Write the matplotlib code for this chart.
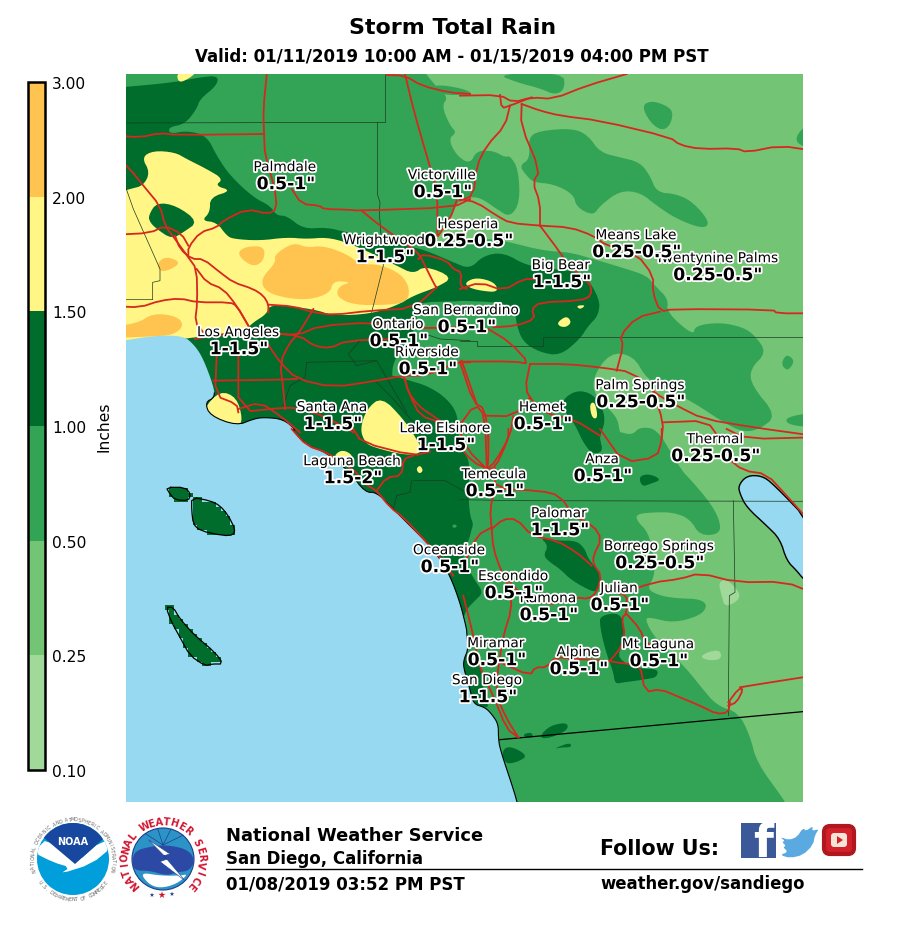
import numpy as np
import matplotlib
matplotlib.use('Agg')
import matplotlib.pyplot as plt
import matplotlib.patheffects as pe
from matplotlib.patches import Circle, Polygon, Rectangle, FancyBboxPatch
from matplotlib.path import Path
from matplotlib.colors import ListedColormap, BoundaryNorm
from matplotlib.cm import ScalarMappable

W, H = 904, 929

# rain classes
levels = [0.10, 0.25, 0.50, 1.00, 1.50, 2.00, 3.00]
colors = ['#a1d99b', '#74c476', '#33a456', '#006d2c', '#fff685', '#fec44f']
water = '#96d9f0'
road = '#d6281f'

NW = (120, 70)
NE = (460, 70)
SW = (120, 430)
SE = (460, 430)
EA = (610, 480)
MI = (330, 330)
SD = (450, 630)


def P(origin, pts):
    return [(origin[0] + x / 3, origin[1] + y / 3) for x, y in pts]


def smooth(pts, closed=True, n=2):
    # corner cutting so the traced outlines are not so angular
    pts = np.array(pts, dtype=float)
    for _ in range(n):
        nxt = np.roll(pts, -1, axis=0) if closed else pts[1:]
        cur = pts if closed else pts[:-1]
        q = 0.75 * cur + 0.25 * nxt
        r = 0.25 * cur + 0.75 * nxt
        new = np.empty((2 * len(cur), 2))
        new[0::2] = q
        new[1::2] = r
        if not closed:
            new = np.vstack([pts[0], new, pts[-1]])
        pts = new
    return pts


light_main = (
    [(415, 60)]
    + P(NW, [(945, 50), (985, 85), (965, 110), (990, 170), (1010, 190), (985, 210), (1010, 260), (1050, 285)])
    + P(NE, [(50, 245), (100, 245), (135, 265), (150, 260), (175, 300), (180, 400), (150, 445), (110, 420), (60, 385), (20, 385)])
    + P(NW, [(1015, 395), (985, 460), (950, 500), (925, 540), (980, 525), (1050, 512)])
    + P(NE, [(100, 510), (150, 520), (250, 545), (330, 550), (400, 570), (500, 600), (560, 620), (585, 650), (625, 690), (620, 730),
             (700, 800), (705, 770), (780, 760), (850, 775), (885, 800), (920, 850), (870, 900), (875, 950), (950, 1040), (900, 1080),
             (850, 1090), (790, 1060), (700, 1000), (620, 960), (560, 930), (520, 860), (450, 850), (395, 930), (410, 990), (470, 1040), (480, 1090)])
    + [(620, 433), (632, 436), (640, 428), (657, 430), (673, 457), (683, 473)]
    + P(EA, [(240, 0), (300, 70), (330, 125), (330, 165), (270, 170), (240, 120), (190, 100), (130, 100), (80, 105), (80, 125), (115, 160),
             (130, 230), (135, 290), (110, 330), (150, 350), (200, 358), (270, 360), (293, 380), (270, 410), (190, 432), (120, 415), (105, 420),
             (130, 470), (180, 520), (230, 570), (270, 620), (320, 680), (385, 700), (420, 770), (440, 850), (520, 960), (525, 970)])
    + [(790, 830), (830, 830), (830, 820), (830, 60), (820, 50)]
)
medium_blobs = [
    P(NE, [(178, 290), (210, 270), (205, 205), (240, 185), (340, 178), (385, 200), (420, 250), (480, 265), (540, 280), (570, 320), (590, 370),
           (650, 375), (700, 400), (750, 460), (730, 480), (650, 450), (590, 410), (540, 370), (480, 365), (420, 410), (400, 440), (350, 415),
           (340, 375), (280, 345), (220, 340), (200, 320)]),
    P(NE, [(110, 15), (310, 10), (315, 60), (285, 78), (240, 58), (170, 40)]),
    P(NW, [(935, 52), (970, 48), (1040, 62), (1060, 78), (960, 78)]),
    P(NE, [(545, 110), (575, 95), (620, 110), (640, 130), (630, 170), (605, 185), (570, 160)]),
    P(NE, [(1060, 150), (1010, 195), (1010, 225), (1060, 240)]),
    P(NE, [(965, 880), (980, 855), (1005, 875), (985, 905), (970, 895)]),
    P(NE, [(975, 1045), (1060, 1030), (1060, 1075), (985, 1068)]),
]
medium_in_dark = P(MI, [(365, 590), (375, 585), (382, 592), (372, 598)])
lightest_blobs = [
    P(EA, [(325, 310), (350, 300), (390, 340), (385, 365), (345, 385), (335, 350)]),
    P(EA, [(270, 535), (290, 520), (330, 512), (335, 540), (300, 545)]),
]
dark_main = (
    P(NW, [(-60, 60), (60, 50), (160, 40), (240, 25), (295, 20), (290, 50), (240, 90), (230, 120), (195, 165), (145, 175), (150, 195), (200, 185),
           (260, 200), (290, 260), (330, 320), (400, 385), (450, 410), (470, 440), (500, 440), (550, 480), (620, 475), (680, 490), (740, 500),
           (860, 530), (920, 545), (1000, 580), (1050, 600)])
    + P(NE, [(70, 560), (130, 550), (200, 590), (280, 600), (370, 610), (420, 690), (415, 740), (385, 770), (360, 810), (300, 860), (240, 850),
             (190, 820), (170, 770), (165, 720), (120, 700), (0, 695)])
    + P(NW, [(1020, 697), (880, 700)])
    + [(418, 320), (410, 340), (400, 352), (393, 365), (392, 377)]
    + P(MI, [(190, 140), (240, 155), (290, 170), (340, 200), (375, 240), (385, 280), (385, 320), (400, 365), (420, 400), (415, 500), (420, 560), (430, 585)])
    + P(SE, [(35, 300), (25, 340), (5, 370), (20, 410), (45, 455), (70, 490), (45, 515), (20, 540), (10, 570)])
    + [(440, 640), (300, 620), (100, 400), (100, 90)]
)
dark_blobs = [
    [(563, 400), (577, 391), (593, 395), (603, 410), (605, 423), (600, 437), (600, 440), (603, 453), (592, 455), (583, 443), (577, 430), (573, 423), (563, 410)],
    P(SE, [(540, 140), (570, 135), (605, 152), (570, 165), (550, 172), (540, 160)]),
    P(SE, [(240, 325), (290, 335), (350, 335), (375, 360), (385, 390), (420, 430), (420, 470), (410, 490), (380, 480), (330, 450), (300, 420), (270, 400), (250, 380), (265, 350)]),
    P(SE, [(420, 560), (480, 550), (495, 600), (490, 640), (470, 690), (540, 720), (595, 720), (590, 745), (560, 750), (530, 755), (490, 760), (465, 765), (460, 730), (445, 690), (430, 640), (420, 590)]),
    P(SE, [(240, 920), (270, 890), (320, 880), (325, 900), (290, 920), (250, 930)]),
    P(SE, [(190, 915), (215, 910), (220, 925), (195, 925)]),
    P(SE, [(280, 960), (330, 940), (335, 955), (305, 955)]),
    P(SE, [(125, 965), (150, 950), (205, 980), (170, 1000), (135, 1005)]),
    P(SD, [(35, 85), (55, 75), (85, 100), (100, 150), (100, 210), (120, 235), (85, 235), (60, 225), (40, 120)]),
]
yellow_main = P(NW, [
    (-60, 385), (30, 360), (70, 350), (90, 310), (65, 265), (100, 245), (165, 250), (200, 270), (260, 300), (310, 330), (285, 350), (335, 365),
    (270, 385), (270, 430), (245, 455), (290, 460), (320, 500), (340, 510), (420, 515), (500, 505), (560, 510), (620, 505), (680, 520), (760, 555),
    (830, 590), (880, 615), (915, 590), (1000, 625), (950, 655), (880, 680), (830, 710), (750, 735), (640, 740), (580, 720), (450, 705), (440, 735),
    (400, 760), (380, 780), (330, 790), (230, 805), (-60, 840)])
dark_hole = P(NW, [(85, 440), (110, 400), (170, 410), (235, 458), (190, 490), (155, 510), (110, 480), (90, 460)])
yellow_blobs = [
    P(NW, [(170, 8), (232, 8), (205, 30), (175, 42)]),
    P(NW, [(250, 1020), (300, 965), (350, 985), (368, 1050), (355, 1075), (300, 1060), (265, 1045)]),
    P(MI, [(90, 300), (110, 240), (155, 203), (220, 270), (260, 330), (280, 370), (230, 380), (130, 355), (105, 340)]),
    P(MI, [(15, 375), (40, 362), (70, 380), (60, 405), (15, 400)]),
    P(MI, [(258, 420), (270, 408), (280, 425), (268, 435)]),
    P(NE, [(15, 640), (50, 625), (105, 640), (115, 670), (60, 665), (25, 655)]),
    P(NE, [(348, 710), (378, 708), (360, 722)]),
    P(NE, [(292, 760), (320, 740), (335, 760), (318, 775), (298, 772)]),
    P(NE, [(388, 1005), (405, 998), (414, 1048), (396, 1048)]),
    P(SW, [(286, 260), (296, 256), (300, 284), (290, 284)]),
]
orange_blobs = [
    P(NW, [(422, 630), (468, 580), (462, 558), (520, 520), (560, 536), (610, 530), (680, 555), (720, 586), (780, 586), (845, 616), (870, 660), (860, 700),
           (800, 708), (700, 708), (648, 682), (658, 650), (695, 640), (640, 635), (630, 672), (570, 692), (500, 688), (436, 668)]),
    P(NW, [(352, 550), (380, 532), (433, 532), (433, 572), (405, 593), (372, 577)]),
    P(NW, [(112, 580), (140, 562), (183, 580), (150, 603), (118, 608)]),
    P(NW, [(-60, 775), (50, 765), (100, 732), (172, 742), (192, 770), (160, 798), (90, 803), (-60, 808)]),
]
coast = (
    P(NW, [(-30, 822), (100, 800), (190, 800), (225, 830), (250, 870), (280, 950), (285, 985), (255, 1000), (270, 1040), (350, 1070), (400, 1050), (430, 1045), (490, 1050), (530, 1085)])
    + P(SW, [(515, 0), (560, 50), (620, 70), (690, 130), (735, 190), (770, 190), (810, 230), (850, 270), (890, 310), (930, 350), (960, 390), (990, 440), (1020, 520), (1040, 600)])
    + P(SD, [(50, 10), (55, 60), (42, 90), (40, 115), (60, 180), (70, 225), (105, 235), (125, 255), (145, 285), (145, 325), (150, 360)])
    + P(SE, [(160, 1080), (172, 1122), (180, 1160)])
)
catalina = P(SW, [(215, 205), (270, 215), (300, 230), (325, 260), (345, 300), (340, 318), (310, 320), (240, 305), (220, 285), (215, 245)])
clemente_n = P(SW, [(138, 175), (195, 175), (212, 195), (205, 215), (165, 212), (150, 195)])
clemente_s = P(SW, [(138, 535), (160, 535), (180, 570), (225, 620), (285, 670), (310, 705), (275, 705), (255, 710), (210, 680), (180, 625), (155, 580)])
salton = P(SE, [(835, 170), (860, 140), (905, 140), (940, 165), (1060, 290), (1060, 470), (1030, 450), (1010, 425), (980, 395), (960, 330), (920, 290), (860, 235), (840, 195)])

county_lines = [
    P(NW, [(-10, 162), (797, 160), (797, 18)]),
    P(NW, [(772, 160), (772, 375), (780, 400), (778, 430), (790, 590), (755, 730)]),
    P(NW, [(12, 340), (40, 420), (120, 600), (120, 635), (98, 640), (98, 692), (-10, 692)]),
    P(NW, [(720, 815), (685, 855), (710, 890), (770, 875), (860, 1030)]),
    P(NW, [(900, 790), (960, 810), (1050, 815)]),
    P(NW, [(560, 880), (770, 875)]),
    P(NW, [(560, 880), (555, 925), (510, 950), (490, 1010)]),
    P(NE, [(0, 815), (50, 815), (50, 830), (250, 830), (250, 803), (1060, 803)]),
    P(MI, [(135, 155), (190, 210), (250, 280)]),
    P(MI, [(250, 455), (345, 455), (400, 485), (470, 500)]),
    P(MI, [(245, 455), (240, 490), (200, 500), (190, 540)]),
    P(SE, [(0, 212), (180, 215), (1060, 217)]),
    P(SE, [(820, 215), (825, 490), (808, 500), (805, 860)]),
]
mexico_border = P(SE, [(120, 932), (1060, 845)])

roads = [
    P(NW, [(-10, 200), (60, 205), (120, 192), (170, 198), (430, 195)]),
    P(NW, [(440, 18), (430, 120), (432, 195), (435, 260), (465, 360), (470, 420), (445, 435), (380, 420), (310, 455), (290, 475), (240, 490), (205, 535), (205, 560)]),
    P(NW, [(-10, 265), (30, 300), (70, 350), (120, 410), (135, 470), (165, 510), (205, 565), (230, 600), (232, 700), (225, 760), (250, 790)]),
    P(NW, [(-10, 497), (90, 492), (135, 470), (185, 495), (205, 530)]),
    P(NW, [(165, 500), (180, 540), (215, 570), (250, 570), (300, 610), (340, 640), (400, 660), (430, 680), (445, 705), (445, 730)]),
    P(NW, [(230, 600), (260, 640), (310, 660), (350, 710), (385, 770)]),
    P(NW, [(-10, 712), (60, 715), (120, 695), (180, 688), (232, 700), (330, 700), (350, 710), (385, 770)]),
    P(NW, [(445, 707), (520, 712), (580, 730), (640, 738), (750, 725), (880, 718), (950, 655)]),
    P(NW, [(580, 720), (550, 770), (530, 800), (510, 820), (480, 880), (490, 960), (495, 1020)]),
    P(NW, [(225, 810), (280, 800), (440, 790), (530, 800), (600, 770), (760, 760), (850, 778), (1050, 775)]),
    P(NW, [(440, 790), (540, 800), (580, 830), (630, 838), (680, 815), (830, 810)]),
    P(NW, [(440, 820), (480, 880), (530, 930), (640, 955), (770, 935), (850, 920), (920, 920), (1010, 880), (1050, 880)]),
    P(NW, [(280, 935), (480, 932), (530, 930)]),
    P(NW, [(355, 850), (355, 1030), (500, 1015), (540, 1020), (610, 1040), (700, 1090)]),
    P(NW, [(290, 860), (285, 980), (350, 1005), (355, 1030)]),
    P(NW, [(355, 1020), (420, 1000), (480, 1040), (540, 1090)]),
    P(NW, [(800, 18), (855, 20), (905, 50), (985, 70), (1050, 75)]),
    P(NW, [(855, 15), (880, 120), (920, 260), (952, 365), (952, 500)]),
    P(NW, [(515, 360), (545, 405), (600, 410), (610, 420), (680, 422), (720, 425), (1000, 415), (1050, 390)]),
    P(NW, [(725, 425), (780, 470), (880, 540), (900, 560), (915, 590), (945, 650), (950, 655)]),
    P(NW, [(895, 570), (910, 555), (980, 575), (1000, 600), (1025, 610), (1020, 650), (1040, 660)]),
    P(NW, [(850, 920), (870, 980), (900, 1040), (960, 1060), (1030, 1090)]),
    P(NW, [(1010, 395), (990, 450), (955, 500)]),
    P(NE, [(0, 80), (120, 78), (160, 100), (215, 85), (280, 90), (380, 50), (500, 15)]),
    P(NE, [(120, 78), (125, 118), (150, 110), (215, 85)]),
    P(NE, [(185, 105), (240, 125), (300, 140), (420, 155), (630, 205), (660, 228), (720, 240), (830, 238), (860, 250), (960, 230), (1060, 245)]),
    P(NE, [(150, 110), (135, 170), (80, 230), (50, 290), (40, 380), (0, 395)]),
    P(NE, [(185, 105), (183, 170), (240, 305), (218, 340), (240, 400), (240, 470)]),
    P(NE, [(0, 390), (50, 400), (110, 440), (150, 462), (240, 470), (330, 475), (400, 500), (440, 530), (530, 555), (580, 620), (578, 670), (600, 728), (640, 720), (940, 722), (950, 733), (1060, 733)]),
    P(NE, [(240, 470), (300, 550), (325, 590), (390, 640), (395, 680), (360, 695), (240, 700), (215, 720), (225, 750), (170, 770), (100, 775)]),
    P(NE, [(600, 728), (530, 745), (480, 800), (490, 830), (470, 905)]),
    P(NE, [(0, 660), (60, 640), (130, 665), (190, 630), (230, 630)]),
    P(NE, [(85, 780), (150, 820), (210, 885), (160, 877), (0, 878)]),
    P(NE, [(210, 885), (320, 885), (420, 895), (520, 910), (580, 970), (650, 1010), (730, 1050), (880, 1075), (1060, 1100)]),
    P(NE, [(210, 885), (195, 960), (220, 1000), (260, 1035), (340, 1050), (420, 1100)]),
    P(NE, [(580, 970), (610, 1060), (605, 1110)]),
    P(NE, [(610, 1060), (740, 1055), (780, 1110)]),
    P(NE, [(0, 880), (40, 1000), (75, 1020), (85, 1110)]),
    P(SE, [(85, 0), (85, 100), (80, 118), (105, 118), (145, 30), (145, 0)]),
    P(SE, [(0, 55), (40, 100), (80, 118)]),
    P(SE, [(105, 118), (105, 180), (240, 185), (300, 200), (340, 260), (400, 290), (425, 330), (400, 380), (400, 405), (425, 440), (410, 490), (385, 510), (350, 505), (280, 525), (215, 510)]),
    P(SE, [(105, 180), (90, 240), (95, 300), (100, 360), (125, 430), (150, 480), (155, 540), (130, 620), (120, 680), (105, 790), (140, 870), (175, 925)]),
    P(SE, [(95, 300), (130, 270), (170, 270), (215, 320), (290, 335), (350, 370), (395, 410)]),
    P(SE, [(95, 295), (50, 320), (15, 400)]),
    P(SE, [(10, 500), (40, 620), (60, 720), (100, 800), (140, 900), (175, 925)]),
    P(SE, [(120, 700), (210, 740), (225, 715), (260, 715), (285, 685), (350, 690), (440, 695), (500, 705), (540, 705), (555, 790), (600, 780), (660, 805), (720, 830), (770, 855), (805, 850), (810, 820)]),
    P(SE, [(425, 480), (500, 490), (500, 555), (485, 565), (495, 620), (480, 660), (450, 695)]),
    P(SE, [(500, 555), (540, 600), (555, 640), (600, 660)]),
    P(SE, [(480, 495), (580, 460), (660, 450), (720, 432), (830, 460), (975, 458), (1060, 492)]),
    P(SE, [(805, 820), (835, 780), (850, 780), (830, 820), (805, 830)]),
    P(SE, [(840, 775), (900, 765), (1060, 740)]),
    P(SE, [(420, 0), (490, 100), (590, 85), (605, 35), (605, 0)]),
    P(SE, [(800, 0), (860, 30), (1060, 25)]),
    P(SE, [(800, 85), (850, 125), (920, 135), (980, 200), (1060, 290)]),
    P(SE, [(125, 430), (190, 505), (280, 525)]),
    P(SW, [(515, 0), (560, 50), (620, 70), (700, 120), (735, 165), (770, 185), (810, 235), (850, 265), (920, 340), (960, 385), (1000, 440)]),
    P(SW, [(700, 0), (725, 40), (880, 80), (930, 68)]),
    P(SW, [(880, 80), (850, 90), (845, 140), (800, 145), (770, 185)]),
    P(MI, [(225, 150), (235, 190), (265, 230), (300, 255), (345, 285), (385, 295), (435, 225), (465, 260), (470, 410)]),
    P(MI, [(395, 95), (440, 225)]),
    P(MI, [(465, 260), (550, 262), (600, 205)]),
    P(MI, [(550, 262), (540, 320), (495, 400), (470, 420)]),
    P(MI, [(385, 295), (410, 360), (470, 420)]),
]

# city labels, drawn in this order
city_names = ['Palmdale', 'Victorville', 'Hesperia', 'Wrightwood', 'Twentynine Palms', 'Means Lake', 'Big Bear', 'San Bernardino', 'Ontario',
              'Los Angeles', 'Riverside', 'Palm Springs', 'Santa Ana', 'Hemet', 'Lake Elsinore', 'Thermal', 'Laguna Beach', 'Temecula', 'Anza',
              'Palomar', 'Borrego Springs', 'Oceanside', 'Ramona', 'Escondido', 'Julian', 'Miramar', 'Mt Laguna', 'Alpine', 'San Diego']
city_rain = ['0.5-1"', '0.5-1"', '0.25-0.5"', '1-1.5"', '0.25-0.5"', '0.25-0.5"', '1-1.5"', '0.5-1"', '0.5-1"',
             '1-1.5"', '0.5-1"', '0.25-0.5"', '1-1.5"', '0.5-1"', '1-1.5"', '0.25-0.5"', '1.5-2"', '0.5-1"', '0.5-1"',
             '1-1.5"', '0.25-0.5"', '0.5-1"', '0.5-1"', '0.5-1"', '0.5-1"', '0.5-1"', '0.5-1"', '0.5-1"', '1-1.5"']
city_x = [285, 442, 468, 384, 717, 636, 561, 466, 398, 238, 427, 640, 332, 542, 445, 715, 352, 494, 602, 559, 659, 449, 548, 513, 619, 496, 658, 578, 487]
city_y = [169, 177, 226, 242, 260, 237, 267, 312, 326, 334, 354, 387, 409, 409, 430, 441, 463, 476, 461, 515, 548, 552, 600, 578, 590, 645, 646, 654, 682]

fig = plt.figure(figsize=(W / 100, H / 100), dpi=100, facecolor='white')


def box(x0, y0, x1, y1):
    return [x0 / W, 1 - y1 / H, (x1 - x0) / W, (y1 - y0) / H]


ax = fig.add_axes(box(126, 75, 803, 803))
ax.set_xlim(126, 803)
ax.set_ylim(803, 75)
ax.axis('off')
ax.add_patch(Rectangle((126, 75), 677, 728, fc=colors[2], ec='none', zorder=0))


def fill(pts, col, z=1, n=2):
    ax.add_patch(Polygon(smooth(pts, n=n) if n else pts, closed=True, fc=col, ec='none', lw=0, zorder=z))


fill(light_main, colors[1])
for b in medium_blobs:
    fill(b, colors[2], 1.2)
for b in lightest_blobs:
    fill(b, colors[0], 1.2)
fill(dark_main, colors[3], 2)
for b in dark_blobs:
    fill(b, colors[3], 2)
fill(medium_in_dark, colors[2], 2.1)
fill(yellow_main, colors[4], 3)
fill(dark_hole, colors[3], 3.1)
for b in yellow_blobs:
    fill(b, colors[4], 3.1)
for b in orange_blobs:
    fill(b, colors[5], 3.2)

# ocean, lake and islands on top of the rain
coast_s = smooth(coast, closed=False)
ocean = np.vstack([coast_s, [(100, 830), (100, 345)]])
ax.add_patch(Polygon(ocean, fc=water, ec='none', zorder=4))
ax.plot(coast_s[24:, 0], coast_s[24:, 1], color='black', lw=0.8, zorder=4.1)
salton_s = smooth(salton)
ax.add_patch(Polygon(salton_s, fc=water, ec='black', lw=1.0, zorder=4))

# the islands show the coarse grid of the rain data behind a finer outline
cell = 4.7
for isl in [catalina, clemente_n, clemente_s]:
    arr = np.array(isl)
    gx = np.arange(np.floor(arr[:, 0].min() / cell) - 1, np.ceil(arr[:, 0].max() / cell) + 1) * cell
    gy = np.arange(np.floor(arr[:, 1].min() / cell) - 1, np.ceil(arr[:, 1].max() / cell) + 1) * cell
    path = Path(arr)
    for x0 in gx:
        for y0 in gy:
            if path.contains_point((x0 + cell / 2, y0 + cell / 2)):
                ax.add_patch(Rectangle((x0, y0), cell, cell, fc=colors[3], ec='none', zorder=4.2))
    outline = smooth(isl, n=1)
    ax.plot(np.append(outline[:, 0], outline[0, 0]), np.append(outline[:, 1], outline[0, 1]), color='black', lw=0.9, zorder=4.3)

for c in county_lines:
    xs, ys = zip(*c)
    ax.plot(xs, ys, color='#1c3a22', lw=0.5, zorder=5)
xs, ys = zip(*mexico_border)
ax.plot(xs, ys, color='black', lw=0.9, zorder=5)
for r in roads:
    s = smooth(r, closed=False, n=1)
    ax.plot(s[:, 0], s[:, 1], color=road, lw=1.3, zorder=6, solid_joinstyle='round')

stroke = [pe.withStroke(linewidth=2.6, foreground='white')]
for i in range(len(city_names)):
    z = 7 + i * 0.01
    ax.text(city_x[i], city_y[i] - 0.8, city_names[i], ha='center', va='center', fontsize=9.9, color='black',
            path_effects=stroke, zorder=z, clip_on=False)
    ax.text(city_x[i] + 1, city_y[i] + 16.2, city_rain[i], ha='center', va='center', fontsize=12.4, fontweight='bold',
            color='black', path_effects=stroke, zorder=z, clip_on=False)

# colorbar
cax = fig.add_axes(box(28, 83, 45, 771))
cb = fig.colorbar(ScalarMappable(norm=BoundaryNorm(levels, len(colors)), cmap=ListedColormap(colors)), cax=cax,
                  spacing='uniform', ticks=levels, drawedges=False)
cb.set_ticklabels(['%.2f' % v for v in levels])
cb.outline.set_linewidth(1.8)
cb.ax.tick_params(length=0, pad=5, labelsize=11.2)
cb.set_label('Inches', fontsize=11.2, labelpad=7)

# page overlay for titles, footer and logos
pg = fig.add_axes([0, 0, 1, 1], facecolor='none')
pg.set_xlim(0, W)
pg.set_ylim(H, 0)
pg.axis('off')
pg.text(453, 28, 'Storm Total Rain', ha='center', va='center', fontsize=15.9, fontweight='bold')
pg.text(452, 56, 'Valid: 01/11/2019 10:00 AM - 01/15/2019 04:00 PM PST', ha='center', va='center', fontsize=12, fontweight='bold')
pg.text(226, 836, 'National Weather Service', va='center', fontsize=12.85, fontweight='bold')
pg.text(226, 859, 'San Diego, California', va='center', fontsize=12, fontweight='bold')
pg.text(226, 885, '01/08/2019 03:52 PM PST', va='center', fontsize=11.95, fontweight='bold')
pg.text(600, 849, 'Follow Us:', va='center', fontsize=14.9, fontweight='bold')
pg.text(600, 884, 'weather.gov/sandiego', va='center', fontsize=11.9, fontweight='bold')
pg.plot([226, 862], [870, 870], color='black', lw=1)


def ring_text(txt, cx, cy, r, start, end, size, col, flip=False, bold=False):
    angles = np.linspace(start, end, len(txt))
    for ch, a in zip(txt, angles):
        t = np.radians(a)
        rot = a + 90 if flip else a - 90
        pg.text(cx + r * np.cos(t), cy - r * np.sin(t), ch, ha='center', va='center', rotation=rot,
                fontsize=size, color=col, fontweight='bold' if bold else 'normal')


# NOAA logo
nx, ny = 73, 860
ring_text('NATIONAL OCEANIC AND ATMOSPHERIC ADMINISTRATION', nx, ny, 40, 195, -15, 3.4, '#666666')
ring_text('U.S. DEPARTMENT OF COMMERCE', nx, ny, 40, 215, 325, 3.4, '#666666', flip=True)
pg.add_patch(Circle((nx, ny), 36, fc='#009edb', ec='none', zorder=2))
swoosh = Polygon(smooth(P((20, 810), [(40, 130), (85, 85), (165, 165), (250, 90), (275, 115), (215, 165), (120, 195), (150, 175), (100, 160)]), n=1),
                 fc='white', ec='none', zorder=3)
pg.add_patch(swoosh)
swoosh.set_clip_path(Circle((nx, ny), 36, transform=pg.transData))
top = Polygon(P((20, 810), [(70, 85), (110, 30), (160, 20), (215, 30), (255, 85), (165, 165)]), fc='#17479e', ec='none', zorder=4)
pg.add_patch(top)
top.set_clip_path(Circle((nx, ny), 36, transform=pg.transData))
pg.text(nx, 842, 'NOAA', ha='center', va='center', color='white', fontsize=7, fontweight='bold', zorder=5)

# NWS logo
wx, wy = 163, 860
ring_text('NATIONAL WEATHER SERVICE', wx, wy, 38, 222, -42, 7, '#d2132f', bold=True)
pg.add_patch(Circle((wx, wy), 31, fc='#2b93c6', ec='#1d3f8f', lw=0.8, zorder=2))
for a in [50, 75, 100, 125]:
    t = np.radians(a)
    pg.plot([wx, wx + 31 * np.cos(t)], [wy - 14, wy - 31 * np.sin(t)], color='#1d3f8f', lw=0.5, zorder=2.5)
cloud = Polygon(smooth(P((20, 810), [(335, 160), (345, 125), (395, 112), (440, 108), (500, 120), (525, 150), (510, 185), (470, 190), (440, 200), (390, 185), (345, 185)])),
                fc='#2d49a6', ec='none', zorder=3)
pg.add_patch(cloud)
pg.add_patch(Polygon(smooth(P((20, 810), [(360, 190), (420, 200), (480, 200), (505, 195), (470, 225), (420, 238), (385, 225)])), fc='white', ec='none', zorder=3))
pg.add_patch(Polygon(P((20, 810), [(385, 92), (450, 135), (432, 140), (495, 215), (420, 158), (442, 150)]), fc='white', ec='#1d3f8f', lw=0.4, zorder=4))
pg.scatter([152, 162, 172], [896, 896, 895], marker='*', s=[12, 28, 12], c=['#1d3f8f', '#d2132f', '#1d3f8f'], linewidths=0)

# social icons
fb = Rectangle((741, 824), 35, 35, fc='#3b5998', ec='none')
pg.add_patch(fb)
ft = pg.text(763, 845, 'f', ha='center', va='center', color='white', fontsize=33, fontweight='bold')
ft.set_clip_path(fb)
bird = [(780, 838), (789, 841), (797, 838), (803, 829), (806, 832), (813, 827), (812, 832), (819, 830), (815, 836), (813, 846), (803, 856), (790, 859), (780, 856),
        (788, 853), (783, 848), (786, 847), (782, 843), (785, 842)]
pg.add_patch(Polygon(smooth(bird, n=1), fc='#5aa9e0', ec='none'))
pg.add_patch(FancyBboxPatch((824, 827), 30, 28, boxstyle='round,pad=0,rounding_size=6', fc='#d3202a', ec='#b01820', lw=3))
pg.add_patch(FancyBboxPatch((831, 834), 16, 14, boxstyle='round,pad=0,rounding_size=3', fc='#f3e4d6', ec='none', zorder=3))
pg.add_patch(Polygon([(837, 837), (837, 845), (843, 841)], fc='#d3202a', ec='none', zorder=4))

fig.savefig('out.png', dpi=100)
